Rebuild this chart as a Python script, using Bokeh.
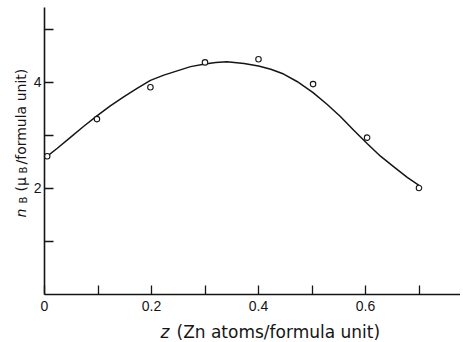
from math import pi
from bokeh.plotting import figure
from bokeh.models import FixedTicker, Label, Range1d
from bokeh.embed import file_html
from bokeh.resources import INLINE

# Measured points
z_points = [0.005, 0.098, 0.198, 0.300, 0.400, 0.502, 0.603, 0.700]
nB_points = [2.60, 3.30, 3.90, 4.37, 4.43, 3.96, 2.95, 2.00]

# Smooth curve
z_curve = [0.0, 0.024, 0.049, 0.074, 0.098, 0.123, 0.148, 0.173, 0.198, 0.223,
           0.248, 0.273, 0.300, 0.320, 0.341, 0.373, 0.400, 0.423, 0.447, 0.472,
           0.502, 0.528, 0.553, 0.578, 0.603, 0.628, 0.653, 0.678, 0.700]
nB_curve = [2.56, 2.75, 2.96, 3.17, 3.36, 3.55, 3.72, 3.88, 4.03, 4.13,
            4.21, 4.29, 4.34, 4.37, 4.38, 4.35, 4.30, 4.24, 4.15, 4.01,
            3.80, 3.58, 3.35, 3.09, 2.84, 2.60, 2.40, 2.20, 2.05]

x_major = [0, 0.2, 0.4, 0.6]
x_minor = [0.1, 0.3, 0.5, 0.7]
y_major = [2, 4]
y_minor = [1, 3, 5]

INK = "#151515"

W, H = 460, 340
X0 = 44          # canvas x of z = 0
Y0 = 293.5       # canvas y of n = 0
SX, SY = 535, 53 # pixels per data unit

p = figure(width=W, height=H, output_backend="svg", toolbar_location=None,
           x_range=Range1d(-X0 / SX, (W - X0) / SX),
           y_range=Range1d(-(H - Y0) / SY, Y0 / SY),
           min_border=0)
p.outline_line_color = None
p.xgrid.grid_line_color = None
p.ygrid.grid_line_color = None
p.background_fill_color = "white"

p.line(z_curve, nB_curve, line_color=INK, line_width=1.5)
p.scatter(z_points, nB_points, marker="circle", size=5.5, fill_color="white",
          line_color=INK, line_width=1.1)

for ax, major, minor in ((p.xaxis[0], x_major, x_minor), (p.yaxis[0], y_major, y_minor)):
    ax.fixed_location = 0
    ax.ticker = FixedTicker(ticks=major, minor_ticks=minor)
    ax.axis_line_color = INK
    ax.axis_line_width = 1.6
    ax.major_tick_in = 9
    ax.major_tick_out = 0
    ax.minor_tick_in = 9
    ax.minor_tick_out = 0
    ax.major_tick_line_color = INK
    ax.minor_tick_line_color = INK
    ax.major_tick_line_width = 1.3
    ax.minor_tick_line_width = 1.3
    ax.major_label_text_font = "Liberation Sans"
    ax.major_label_text_font_size = "14px"
    ax.major_label_text_color = INK

p.xaxis[0].bounds = (0, 0.8)
p.yaxis[0].bounds = (0, 5.41)
p.xaxis[0].major_label_overrides = {0: "0", 0.2: "0.2", 0.4: "0.4", 0.6: "0.6"}
p.yaxis[0].major_label_overrides = {2: "2", 4: "4"}
p.xaxis[0].major_label_standoff = 7
p.yaxis[0].major_label_standoff = 3

def lab(x, y, text, size, italic=False, angle=0.0):
    p.add_layout(Label(x=x, y=y, x_units="canvas", y_units="canvas", text=text,
                       angle=angle, text_font="DejaVu Sans", text_font_size=size,
                       text_font_style="italic" if italic else "normal",
                       text_color=INK, text_align="left", text_baseline="alphabetic"))

# x-axis title
lab(160, 331, "z", "17px", italic=True)
lab(176, 331, "(Zn atoms/formula unit)", "17px")

# y-axis title (rotated)
lab(20, 217, "n", "14px", italic=True, angle=pi / 2)
lab(23, 203, "B", "10px", angle=pi / 2)
lab(20, 191, "(\u03bc", "14px", angle=pi / 2)
lab(23, 173, "B", "10px", angle=pi / 2)
lab(20, 164, "/formula unit)", "14px", angle=pi / 2)

open("out.html", "w").write(file_html(p, INLINE))
